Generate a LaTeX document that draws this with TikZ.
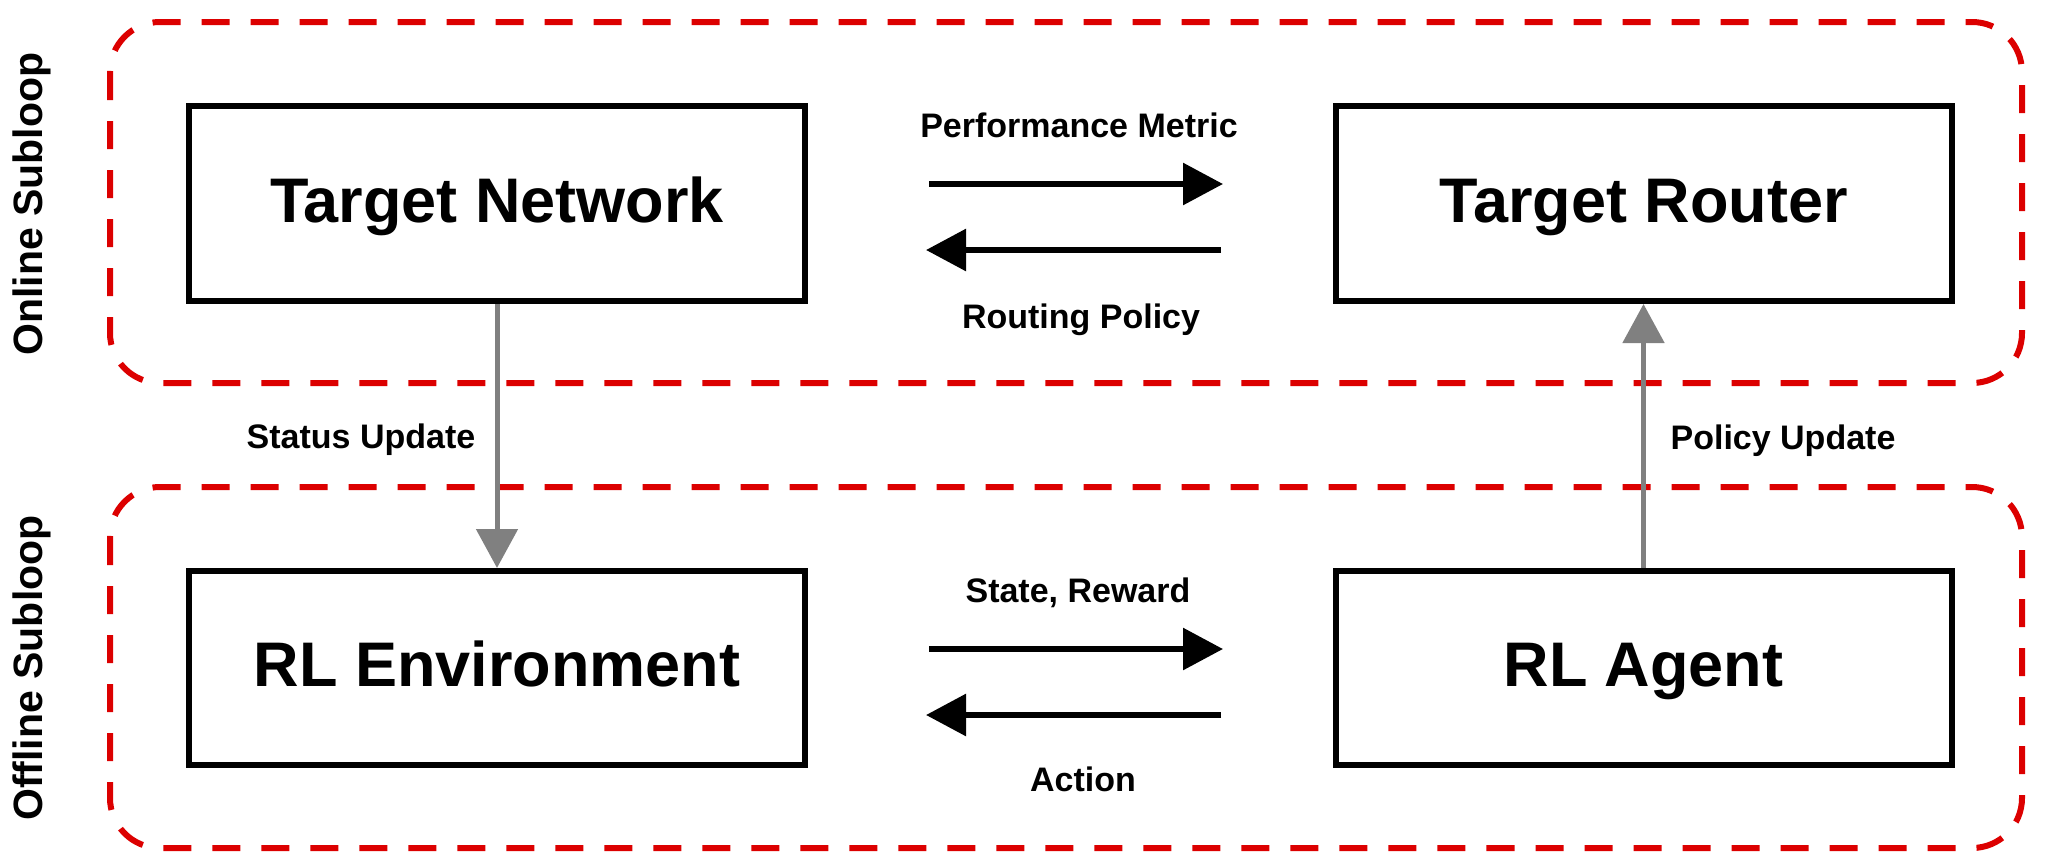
\documentclass[tikz,border=0pt]{standalone}
\usepackage{fontspec}
\setmainfont{Liberation Sans}
\usetikzlibrary{arrows.meta}
\definecolor{loopred}{RGB}{220,0,0}
\definecolor{updgray}{RGB}{128,128,128}
\begin{document}
\begin{tikzpicture}[x=1pt,y=-1pt,
  box/.style={draw=black, line width=6pt, minimum width=616pt, minimum height=195pt, inner sep=0pt, text height=45pt, text depth=8pt, font=\fontsize{63}{70}\selectfont\bfseries},
  loopbox/.style={draw=loopred, line width=6pt, dash pattern=on 28pt off 21pt, rounded corners=50pt},
  lbl/.style={font=\fontsize{34}{40}\selectfont\bfseries, anchor=base, inner sep=0pt},
  side/.style={font=\fontsize{41}{48}\selectfont\bfseries, rotate=90, anchor=base, inner sep=0pt},
  flow/.style={line width=6pt, -{Triangle[length=40pt,width=41pt]}},
  upd/.style={draw=updgray, line width=5pt, -{Triangle[length=39pt,width=41pt]}}
]
\useasboundingbox (0,0) rectangle (2061,863);

% subloop frames
\draw[loopbox] (110,22) rectangle (2022,383);
\draw[loopbox] (110,487) rectangle (2022,848);

\node[side] (online) at (42,204) {Online Subloop};
\node[side] (offline) at (42,668) {Offline Subloop};

% boxes
\node[box] (tn) at (497,203.5) {Target Network};
\node[box] (tr) at (1643.5,203.5) {Target Router};
\node[box, minimum height=194pt] (env) at (497,668) {RL Environment};
\node[box, minimum height=194pt] (ag) at (1643.5,668) {RL Agent};

% horizontal flows
\coordinate (pmA) at (929,184);
\coordinate (pmB) at (1223,184);
\coordinate (rpA) at (1221,250);
\coordinate (rpB) at (926,250);
\coordinate (srA) at (929,649);
\coordinate (srB) at (1223,649);
\coordinate (acA) at (1221,715);
\coordinate (acB) at (926,715);
\draw[flow] (pmA) -- (pmB);
\draw[flow] (rpA) -- (rpB);
\draw[flow] (srA) -- (srB);
\draw[flow] (acA) -- (acB);

% labels
\node[lbl] (lpm) at (1079,137) {Performance Metric};
\node[lbl] (lrp) at (1081,328) {Routing Policy};
\node[lbl] (lsr) at (1078,602) {State, Reward};
\node[lbl] (lac) at (1083,791) {Action};
\node[lbl] (lsu) at (361,448) {Status Update};
\node[lbl] (lpu) at (1783,449) {Policy Update};

% update arrows
\draw[upd] (tn.south) -- (env.north);
\draw[upd] (ag.north) -- (tr.south);
\end{tikzpicture}
\end{document}
